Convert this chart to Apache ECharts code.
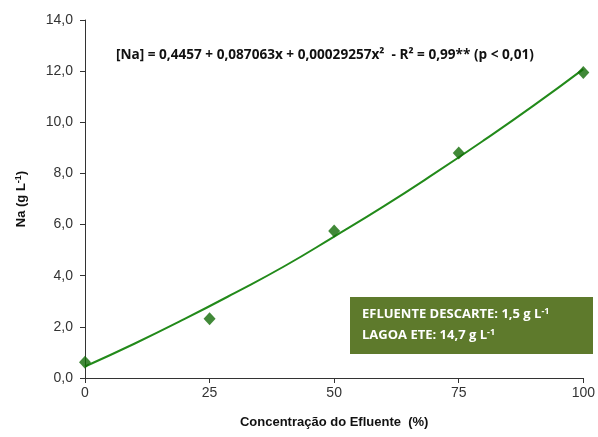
<!DOCTYPE html>
<html>
<head>
<meta charset="utf-8">
<script src="https://cdn.jsdelivr.net/npm/echarts@6/dist/echarts.min.js"></script>
<style>
  html, body { margin: 0; padding: 0; background: #fff; }
  #chart { width: 598px; height: 437px; }
</style>
</head>
<body>
<div id="chart"></div>
<script>
// pontos observados
var concentracao = [0, 25, 50, 75, 100];
var sodio = [0.62, 2.32, 5.75, 8.8, 11.95];
// linha de tendência
var curvaX = [0, 10, 20, 30, 40, 50, 60, 70, 80, 90, 100];
var curvaY = [0.45, 1.35, 2.31, 3.32, 4.37, 5.53, 6.72, 7.98, 9.29, 10.65, 12.08];

var chart = echarts.init(document.getElementById('chart'));
var lineColor = '#228a1a';
var pointColor = '#116b06';

var supStyle = { fontFamily: 'Liberation Sans', fontWeight: 'bold', fontSize: 9, color: '#111', verticalAlign: 'top', padding: [0, 0, 6, 0] };

var option = {
  backgroundColor: '#fff',
  animation: false,
  grid: { left: 85, right: 14, top: 20, bottom: 59 },
  xAxis: {
    type: 'value',
    min: 0, max: 100, interval: 25,
    name: 'Concentração do Efluente  (%)',
    nameLocation: 'middle',
    nameGap: 38,
    nameTextStyle: { fontFamily: 'Liberation Sans', fontWeight: 'bold', fontSize: 13, color: '#111' },
    splitLine: { show: false },
    axisLine: { lineStyle: { color: '#333', width: 1 } },
    axisTick: { length: 5, lineStyle: { color: '#333' } },
    axisLabel: { fontFamily: 'Liberation Sans', fontSize: 14, color: '#333', margin: 8 }
  },
  yAxis: {
    type: 'value',
    min: 0, max: 14, interval: 2,
    name: '{a|Na (g L}{s|-1}{a|)}',
    nameLocation: 'middle',
    nameGap: 56,
    nameRotate: 90,
    nameTextStyle: {
      rich: {
        a: { fontFamily: 'Liberation Sans', fontWeight: 'bold', fontSize: 13, color: '#111' },
        s: supStyle
      }
    },
    splitLine: { show: false },
    axisLine: { show: true, lineStyle: { color: '#333', width: 1 } },
    axisTick: { show: true, length: 5, lineStyle: { color: '#333' } },
    axisLabel: {
      fontFamily: 'Liberation Sans', fontSize: 14, color: '#333', margin: 12,
      formatter: function (v) { return v.toFixed(1).replace('.', ','); }
    }
  },
  series: [
    {
      name: 'tendencia',
      type: 'line',
      smooth: true,
      showSymbol: false,
      data: curvaX.map(function (x, i) { return [x, curvaY[i]]; }),
      lineStyle: { color: lineColor, width: 2 },
      z: 2
    },
    {
      name: 'Na',
      type: 'scatter',
      symbol: 'diamond',
      symbolSize: [12, 13],
      data: concentracao.map(function (x, i) { return [x, sodio[i]]; }),
      itemStyle: { color: pointColor },
      z: 3
    }
  ],
  graphic: [
    {
      type: 'text',
      left: 116, top: 48,
      style: {
        text: '[Na] = 0,4457 + 0,087063x + 0,00029257x²  - R² = 0,99** (p < 0,01)',
        font: 'bold 13.6px "Open Sans", "Liberation Sans", sans-serif',
        fill: '#111'
      }
    },
    {
      type: 'group',
      left: 350, top: 297,
      children: [
        {
          type: 'rect',
          shape: { x: 0, y: 0, width: 243, height: 57 },
          style: { fill: '#5e7a2c' }
        },
        {
          type: 'text',
          x: 12, y: 10,
          style: {
            text: '{t|EFLUENTE DESCARTE: 1,5 g L}{s|-1}',
            rich: {
              t: { font: 'bold 13px "Open Sans", sans-serif', fill: '#fff' },
              s: { font: 'bold 9px "Open Sans", sans-serif', fill: '#fff', verticalAlign: 'top', padding: [0, 0, 6, 0] }
            }
          }
        },
        {
          type: 'text',
          x: 12, y: 31,
          style: {
            text: '{t|LAGOA ETE: 14,7 g L}{s|-1}',
            rich: {
              t: { font: 'bold 13px "Open Sans", sans-serif', fill: '#fff' },
              s: { font: 'bold 9px "Open Sans", sans-serif', fill: '#fff', verticalAlign: 'top', padding: [0, 0, 6, 0] }
            }
          }
        }
      ]
    }
  ]
};
chart.setOption(option);
</script>
</body>
</html>
